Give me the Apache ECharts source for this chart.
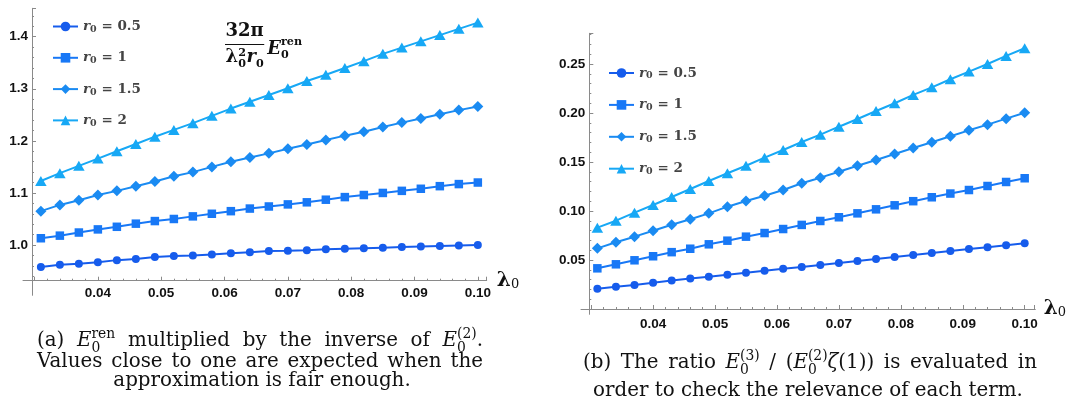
<!DOCTYPE html>
<html>
<head>
<meta charset="utf-8">
<script src="https://cdn.jsdelivr.net/npm/echarts@6/dist/echarts.min.js"></script>
<style>html,body{margin:0;padding:0;background:#fff}#c{width:1069px;height:412px}</style>
</head>
<body>
<div id="c"></div>
<script>
// ---------------- DATA ----------------
const lambda0 = [0.031,0.034,0.037,0.040,0.043,0.046,0.049,0.052,0.055,0.058,0.061,0.064,
                 0.067,0.070,0.073,0.076,0.079,0.082,0.085,0.088,0.091,0.094,0.097,0.100];
const r0Values = ['0.5','1','1.5','2'];

// (a) renormalised energy ratio
const renR05 = [0.958,0.962,0.964,0.967,0.971,0.973,0.977,0.979,0.980,0.982,0.984,0.986,
                0.9885,0.989,0.990,0.992,0.993,0.994,0.995,0.996,0.997,0.998,0.999,1.000];
const renR1  = [1.013,1.018,1.024,1.030,1.035,1.041,1.046,1.050,1.055,1.060,1.065,1.070,
                1.074,1.078,1.082,1.087,1.092,1.096,1.100,1.104,1.108,1.113,1.117,1.120];
const renR15 = [1.065,1.077,1.086,1.096,1.104,1.113,1.122,1.132,1.140,1.150,1.160,1.168,
                1.176,1.185,1.193,1.2015,1.210,1.2175,1.2265,1.235,1.243,1.251,1.259,1.266];
const renR2  = [1.123,1.138,1.152,1.166,1.180,1.194,1.208,1.221,1.234,1.248,1.262,1.275,
                1.288,1.301,1.315,1.327,1.340,1.353,1.367,1.379,1.391,1.403,1.415,1.427];

// (b) ratio E3 / (E2 zeta(1))
const ratR05 = [0.0207,0.0228,0.0245,0.0268,0.0291,0.0312,0.0330,0.0350,0.0370,0.0390,0.0410,0.0428,
                0.0449,0.0469,0.0490,0.0510,0.0531,0.0551,0.0572,0.0592,0.0612,0.0630,0.0650,0.0670];
const ratR1  = [0.0415,0.0456,0.0497,0.0538,0.0580,0.0615,0.0660,0.0697,0.0738,0.0775,0.0816,0.0858,
                0.0898,0.0936,0.0976,0.1017,0.1058,0.1100,0.1140,0.1178,0.1214,0.1255,0.1296,0.1334];
const ratR15 = [0.0619,0.0681,0.0738,0.0799,0.0860,0.0915,0.0976,0.1044,0.1102,0.1156,0.1214,0.1283,
                0.1340,0.1401,0.1462,0.1520,0.1581,0.1643,0.1701,0.1762,0.1823,0.1881,0.1942,0.2003];
const ratR2  = [0.0830,0.0901,0.0983,0.1061,0.1143,0.1224,0.1306,0.1385,0.1462,0.1544,0.1622,0.1704,
                0.1779,0.1860,0.1939,0.2020,0.2099,0.2184,0.2262,0.2344,0.2422,0.2500,0.2582,0.2660];

// tick labels
const xTickLabels  = ['0.04','0.05','0.06','0.07','0.08','0.09','0.10'];
const yTickLabelsA = ['1.0','1.1','1.2','1.3','1.4'];
const yTickLabelsB = ['0.05','0.10','0.15','0.20','0.25'];

// ---------------- STYLE ----------------
const colors  = ['#165cec','#1878f6','#1a8bf2','#17a8f5'];
const symbols = ['circle','rect','diamond','triangle'];
const symSize = [8, 8.5, [11,11], [11.5,10]];
const axisColor = '#8a8a8a';
const labelFont = 'Liberation Sans';
const serif = 'DejaVu Serif';

function tickFormatter(list){
  return function(v){
    for (const s of list){ if (Math.abs(parseFloat(s) - v) < 1e-9) return s; }
    return '';
  };
}

function dataAxisX(grid, min, max, fmt, margin){
  return {
    gridIndex: grid, type:'value', min:min, max:max, minInterval:0.01, maxInterval:0.01,
    axisLine:{show:false, onZero:false},
    axisTick:{show:true, inside:true, length:4, lineStyle:{color:axisColor}},
    minorTick:{show:true, splitNumber:5, length:2, lineStyle:{color:axisColor}},
    splitLine:{show:false}, minorSplitLine:{show:false},
    axisLabel:{formatter:fmt, margin:margin, fontFamily:labelFont, fontWeight:'bold', fontSize:13.5, color:'#111'},
    name:'{l|λ}{s|0}', nameLocation:'end', nameGap:9,
    nameTextStyle:{rich:{
      l:{fontFamily:serif, fontWeight:'bold', fontSize:20, color:'#111', lineHeight:20},
      s:{fontFamily:serif, fontSize:13, color:'#111', lineHeight:12, verticalAlign:'bottom'}
    }}
  };
}
function dataAxisY(grid, min, max, step, fmt){
  return {
    gridIndex: grid, type:'value', min:min, max:max, minInterval:step, maxInterval:step,
    axisLine:{show:false, onZero:false},
    axisTick:{show:true, inside:true, length:4, lineStyle:{color:axisColor}},
    minorTick:{show:true, splitNumber:5, length:2, lineStyle:{color:axisColor}},
    splitLine:{show:false}, minorSplitLine:{show:false},
    axisLabel:{formatter:fmt, margin:4, fontFamily:labelFont, fontWeight:'bold', fontSize:13.5, color:'#111'}
  };
}
function lineAxis(grid){
  return {gridIndex:grid, type:'value', min:0, max:1,
    axisLine:{show:true, onZero:false, lineStyle:{color:axisColor, width:1}},
    axisTick:{show:false}, axisLabel:{show:false}, splitLine:{show:false}};
}
function hiddenAxis(grid){ return {gridIndex:grid, type:'value', min:0, max:1, show:false}; }

const grids = [
  {left:32, top:8.3, width:454.7, height:272.4},      // 0 data (a)
  {left:23, top:8.3, width:463.7, height:272.4},      // 1 x-axis line (a)
  {left:32, top:8.3, width:454.7, height:287},        // 2 y-axis line (a)
  {left:589.3, top:33.3, width:446, height:275.7},    // 3 data (b)
  {left:581, top:33.3, width:454.3, height:275.7},    // 4 x-axis line (b)
  {left:589.3, top:33.3, width:446, height:281}       // 5 y-axis line (b)
];

const xAxes = [
  dataAxisX(0, 0.0296, 0.1014, tickFormatter(xTickLabels), 6),
  lineAxis(1), hiddenAxis(2),
  dataAxisX(3, 0.0297, 0.1016, tickFormatter(xTickLabels), 8),
  lineAxis(4), hiddenAxis(5)
];
const yAxes = [
  dataAxisY(0, 0.9315, 1.4545, 0.1, tickFormatter(yTickLabelsA)),
  hiddenAxis(1), lineAxis(2),
  dataAxisY(3, 0, 0.2813, 0.05, tickFormatter(yTickLabelsB)),
  hiddenAxis(4), lineAxis(5)
];

const names = r0Values.map(v => 'r0 = ' + v);
const setsA = [renR05, renR1, renR15, renR2];
const setsB = [ratR05, ratR1, ratR15, ratR2];
const series = [];
function addSeries(sets, axisIdx){
  sets.forEach((arr, k) => {
    series.push({
      name: names[k], type:'line', xAxisIndex:axisIdx, yAxisIndex:axisIdx,
      data: lambda0.map((x,i) => [x, arr[i]]),
      symbol: symbols[k], symbolSize: symSize[k], showSymbol:true,
      lineStyle:{color:colors[k], width:2}, itemStyle:{color:colors[k]},
      z: 3 + k, animation:false, silent:true
    });
  });
}
addSeries(setsA, 0);
addSeries(setsB, 3);

const legendRich = {
  r:{fontFamily:serif, fontStyle:'italic', fontWeight:'bold', fontSize:13.5, color:'#444', lineHeight:16},
  s:{fontFamily:serif, fontWeight:'bold', fontSize:9.5, color:'#444', lineHeight:10, verticalAlign:'bottom'},
  t:{fontFamily:serif, fontWeight:'bold', fontSize:13.5, color:'#444', lineHeight:16}
};
function legendFmt(name){ const v = name.replace('r0 = ',''); return '{r|r}{s|0}{t| = ' + v + '}'; }
const legends = [
  {data:names, orient:'vertical', left:52, top:19.5, padding:0, itemWidth:25, itemHeight:12, itemGap:16.3,
   selectedMode:false, formatter:legendFmt, textStyle:{rich:legendRich}},
  {data:names, orient:'vertical', left:608, top:66, padding:0, itemWidth:25, itemHeight:12, itemGap:16.9,
   selectedMode:false, formatter:legendFmt, textStyle:{rich:legendRich}}
];

// ---------------- TEXT COMPOSITION ----------------
const mctx = document.createElement('canvas').getContext('2d');
function textW(t, f){ mctx.font = f; return mctx.measureText(t).width; }
function fontOf(sz, it, b, fam){ return (it?'italic ':'normal ') + (b?'bold ':'normal ') + sz.toFixed(2) + 'px "' + fam + '"'; }
function runsLayout(runs, size, fam, bold){
  let x = 0; const items = [];
  runs.forEach(r => {
    if (typeof r === 'string') r = {t:r};
    if (r.st){
      const sz = size * (r.k || 0.7); let w = 0;
      r.st.forEach(s => {
        const f = fontOf(sz, !!s.i, bold, fam);
        items.push({t:s.t, f:f, sz:sz, fam:fam, it:!!s.i, b:bold, dx:x + (s.sh||0)*size, dy:s.dy*size});
        w = Math.max(w, textW(s.t, f) + (s.sh||0)*size);
      });
      x += w + (r.post||0)*size;
    } else {
      const sz = size * (r.k || 1);
      const f = fontOf(sz, !!r.i, (r.b!==undefined? r.b : bold), fam);
      items.push({t:r.t, f:f, sz:sz, fam:fam, it:!!r.i, b:(r.b!==undefined? r.b : bold), dx:x + (r.pre||0)*size, dy:(r.dy||0)*size});
      x += textW(r.t, f) + (r.pre||0)*size + (r.post||0)*size;
    }
  });
  return {items:items, width:x};
}
function toGraphic(items, x0, baseline, color){
  return items.map(it => ({
    type:'text', x:x0 + it.dx, y:baseline + it.dy - 0.34*it.sz, silent:true,
    style:{text:it.t, fill:color, fontFamily:it.fam, fontSize:it.sz, fontStyle:it.it?'italic':'normal',
           fontWeight:it.b?'bold':'normal', align:'left', verticalAlign:'middle',
           textAlign:'left', textVerticalAlign:'middle'}
  }));
}
function lineElems(words, o){
  const lays = words.map(wd => runsLayout(Array.isArray(wd) ? wd : [wd], o.size, o.fam, o.bold));
  const total = lays.reduce((a,l) => a + l.width, 0);
  const sp = textW(' ', fontOf(o.size, false, o.bold, o.fam));
  let gap, x;
  if (o.align === 'justify'){ gap = (o.w - total) / (words.length - 1); x = o.x; }
  else { gap = sp; x = o.cx - (total + sp*(words.length-1)) / 2; }
  const els = [];
  lays.forEach(l => { els.push(...toGraphic(l.items, x, o.baseline, o.color)); x += l.width + gap; });
  return els;
}

const capFam = serif;
const refLine = 'order to check the relevance of each term.';
const capSize = 17 * 430 / textW(refLine, fontOf(17, false, false, capFam));
const sub0 = (sup) => ({st:[{t:'0', dy:0.27}, {t:sup, dy:-0.45}], k:0.7});

const captionA1 = ['(a)', [{t:'E', i:true}, sub0('ren')], 'multiplied', 'by', 'the', 'inverse', 'of', [{t:'E', i:true}, sub0('(2)'), '.']];
const captionA2 = 'Values close to one are expected when the'.split(' ');
const captionA3 = 'approximation is fair enough.'.split(' ');
const captionB1 = ['(b)', 'The', 'ratio', [{t:'E', i:true}, sub0('(3)')], '/', ['(', {t:'E', i:true}, sub0('(2)'), {t:'ζ', i:true}, '(1))'], 'is', 'evaluated', 'in'];
const captionB2 = refLine.split(' ');

const graphics = [];
const capBase = {size:capSize, fam:capFam, bold:false, color:'#111'};
graphics.push(...lineElems(captionA1, Object.assign({}, capBase, {align:'justify', x:37, w:446, baseline:348})));
graphics.push(...lineElems(captionA2, Object.assign({}, capBase, {align:'justify', x:37, w:446, baseline:368.5})));
graphics.push(...lineElems(captionA3, Object.assign({}, capBase, {align:'center', cx:262, baseline:388})));
graphics.push(...lineElems(captionB1, Object.assign({}, capBase, {align:'justify', x:583, w:454, baseline:370})));
graphics.push(...lineElems(captionB2, Object.assign({}, capBase, {align:'center', cx:808, baseline:398})));

// in-plot formula 32π/(λ0² r0) E0^ren
const tFam = 'DejaVu Serif';
const tSize = 18;
const num = runsLayout([{t:'32π'}], tSize, tFam, true);
const den = runsLayout([{t:'λ'}, {st:[{t:'0', dy:0.25}, {t:'2', dy:-0.38}], k:0.62, post:0.03}, {t:'r', i:true}, {st:[{t:'0', dy:0.25}], k:0.62}], tSize, tFam, true);
const barW = Math.max(num.width, den.width) + 1;
const barX = 225, barY = 44.5;
graphics.push(...toGraphic(num.items, barX + (barW - num.width)/2, 37.5, '#111'));
graphics.push(...toGraphic(den.items, barX + (barW - den.width)/2, 63.5, '#111'));
graphics.push({type:'line', silent:true, shape:{x1:barX, y1:barY, x2:barX + barW, y2:barY}, style:{stroke:'#111', lineWidth:1.2}});
const eTerm = runsLayout([{t:'E', i:true}, {st:[{t:'0', dy:0.2}, {t:'ren', dy:-0.55}], k:0.62}], tSize, tFam, true);
graphics.push(...toGraphic(eTerm.items, barX + barW + 3, 55.5, '#111'));

// ---------------- CHART ----------------
const chart = echarts.init(document.getElementById('c'), null, {renderer:'canvas'});
chart.setOption({
  animation:false,
  backgroundColor:'#ffffff',
  grid: grids,
  xAxis: xAxes,
  yAxis: yAxes,
  legend: legends,
  series: series,
  graphic: graphics
});
</script>
</body>
</html>
